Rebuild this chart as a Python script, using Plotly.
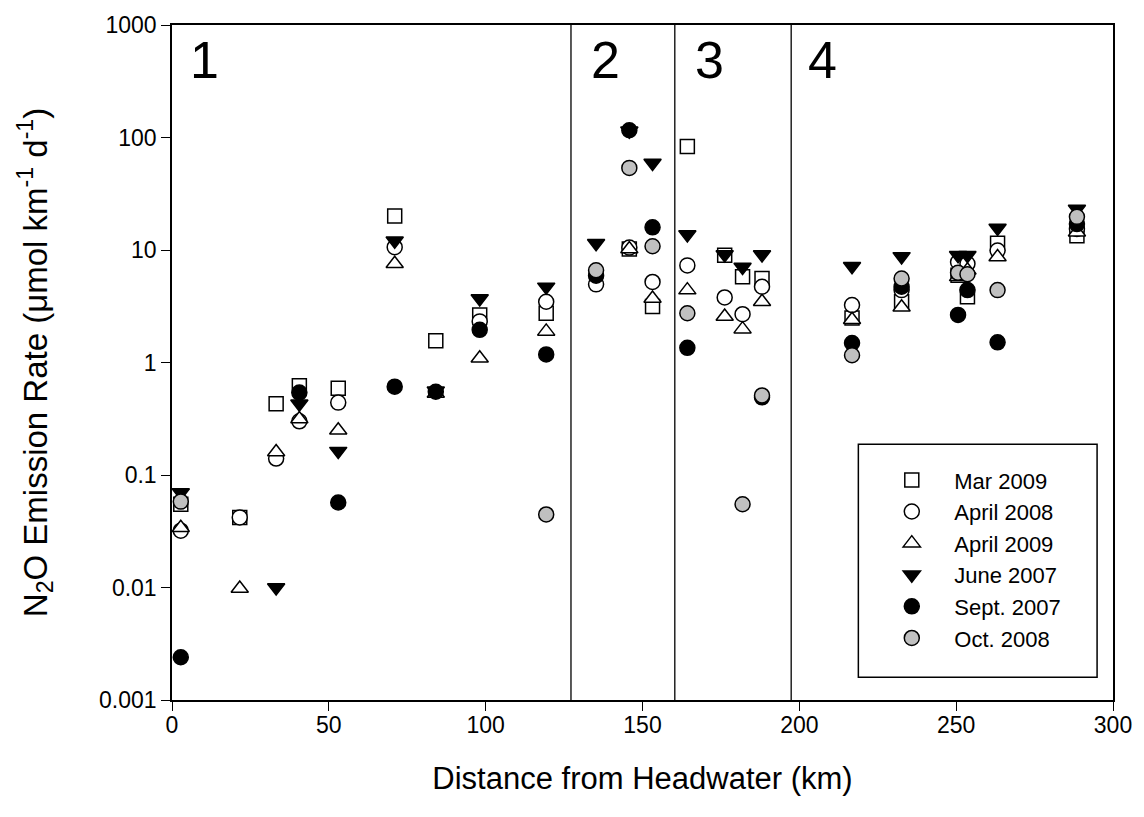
import plotly.graph_objects as go

# ---- data ----
mar09_x = [2.8, 21.6, 33.2, 40.6, 53, 71, 84.1, 98.1, 119.3, 145.8, 153.2, 164.3, 176.2, 181.9, 188.1, 216.8, 232.6, 250.6, 253.6, 263.2, 288.5]
mar09_y = [0.055, 0.042, 0.43, 0.62, 0.59, 20.1, 1.56, 2.65, 2.74, 10.2, 3.14, 83, 8.96, 5.77, 5.57, 2.48, 3.47, 5.97, 3.84, 11.5, 13.4]

apr08_x = [2.8, 21.6, 33.2, 40.6, 53, 71, 98.1, 119.3, 135.2, 145.8, 153.2, 164.3, 176.2, 181.9, 188.1, 216.8, 232.6, 250.6, 253.6, 263.2, 288.5]
apr08_y = [0.032, 0.042, 0.14, 0.30, 0.44, 10.6, 2.32, 3.47, 4.95, 10.5, 5.2, 7.3, 3.79, 2.69, 4.71, 3.24, 4.4, 7.82, 7.55, 9.9, 15.4]

apr09_x = [2.8, 21.6, 33.2, 40.6, 53, 71, 84.1, 98.1, 119.3, 145.8, 153.2, 164.3, 176.2, 181.9, 188.1, 216.8, 232.6, 250.6, 253.6, 263.2, 288.5]
apr09_y = [0.034, 0.0098, 0.16, 0.315, 0.25, 7.56, 0.53, 1.09, 1.89, 10.2, 3.7, 4.4, 2.56, 1.98, 3.47, 2.4, 3.1, 5.77, 6.6, 8.66, 14.4]

jun07_x = [2.8, 33.2, 40.6, 53, 71, 84.1, 98.1, 119.3, 135.2, 145.8, 153.2, 164.3, 176.2, 181.9, 188.1, 216.8, 232.6, 250.6, 253.6, 263.2, 288.5]
jun07_y = [0.070, 0.010, 0.43, 0.163, 12.1, 0.56, 3.71, 4.7, 11.5, 115, 59.4, 13.7, 9.1, 7.06, 9.1, 7.16, 8.77, 8.96, 8.96, 15.7, 23.1]

sep07_x = [2.8, 40.6, 53, 71, 84.1, 98.1, 119.3, 135.2, 145.8, 153.2, 164.3, 188.1, 216.8, 232.6, 250.6, 253.6, 263.2, 288.5]
sep07_y = [0.0024, 0.54, 0.057, 0.61, 0.55, 1.95, 1.18, 5.9, 116, 15.9, 1.35, 0.49, 1.49, 4.71, 2.65, 4.4, 1.51, 17.0]

oct08_x = [2.8, 119.3, 135.2, 145.8, 153.2, 164.3, 181.9, 188.1, 216.8, 232.6, 250.6, 253.6, 263.2, 288.5]
oct08_y = [0.058, 0.0446, 6.6, 53.7, 10.8, 2.74, 0.055, 0.51, 1.16, 5.57, 6.27, 6.09, 4.4, 19.7]

region_bounds = [127.2, 160.3, 197.4]
region_labels = ["1", "2", "3", "4"]
region_label_x = [5, 133, 166, 202]

y_tickvals = [0.001, 0.01, 0.1, 1, 10, 100, 1000]
y_ticktext = ["0.001", "0.01", "0.1", "1", "10", "100", "1000"]
x_tickvals = [0, 50, 100, 150, 200, 250, 300]

series = [
    ("Mar 2009", mar09_x, mar09_y, "square", "white"),
    ("April 2008", apr08_x, apr08_y, "circle", "white"),
    ("April 2009", apr09_x, apr09_y, "triangle-up", "white"),
    ("June 2007", jun07_x, jun07_y, "triangle-down", "black"),
    ("Sept. 2007", sep07_x, sep07_y, "circle", "black"),
    ("Oct. 2008", oct08_x, oct08_y, "circle", "#C0C0C0"),
]

FONT = "Liberation Sans, Arial, sans-serif"

fig = go.Figure()
for name, xs, ys, sym, fill in series:
    fig.add_trace(go.Scatter(
        x=xs, y=ys, mode="markers", name=name,
        marker=dict(symbol=sym, size=15 if sym != "square" else 14, color=fill,
                    line=dict(color="black", width=1.5)),
    ))

for b in region_bounds:
    fig.add_shape(type="line", xref="x", yref="paper", x0=b, x1=b, y0=0, y1=1,
                  line=dict(color="black", width=1.3))

for lab, lx in zip(region_labels, region_label_x):
    fig.add_annotation(x=lx, y=0.948, xref="x", yref="paper", text=lab,
                       showarrow=False, xanchor="left", yanchor="middle",
                       font=dict(family=FONT, size=52, color="black"))

# legend frame
fig.add_shape(type="rect", xref="paper", yref="paper",
              x0=(862 - 172) / 946, x1=(1102 - 172) / 946,
              y0=(700 - 677) / 681, y1=(700 - 442) / 681,
              line=dict(color="black", width=1.5), fillcolor="rgba(0,0,0,0)", layer="above")

fig.update_layout(
    width=1144, height=817,
    margin=dict(l=172, r=26, t=19, b=117),
    paper_bgcolor="white", plot_bgcolor="white",
    font=dict(family=FONT, color="black"),
    showlegend=True,
    legend=dict(
        x=(873 - 172) / 946, y=(700 - 457) / 681, xanchor="left", yanchor="top",
        borderwidth=0, bgcolor="rgba(0,0,0,0)",
        font=dict(family=FONT, size=22), itemwidth=75,
        tracegroupgap=0,
    ),
    xaxis=dict(
        range=[0, 300], tickvals=x_tickvals, ticks="outside", ticklen=9,
        tickwidth=1.3, tickcolor="black", showgrid=False, zeroline=False,
        showline=True, linecolor="black", linewidth=1.5, mirror=True,
        tickfont=dict(family=FONT, size=23), ticklabelstandoff=-5,
        title=dict(text="Distance from Headwater (km)", font=dict(family=FONT, size=31), standoff=30),
    ),
    yaxis=dict(
        type="log", range=[-3, 3], tickvals=y_tickvals, ticktext=y_ticktext,
        ticks="outside", ticklen=9, tickwidth=1.3, tickcolor="black",
        showgrid=False, zeroline=False,
        showline=True, linecolor="black", linewidth=1.5, mirror=True,
        tickfont=dict(family=FONT, size=23),
        title=dict(text="N<sub>2</sub>O Emission Rate (μmol km<sup>-1</sup> d<sup>-1</sup>)",
                   font=dict(family=FONT, size=33), standoff=42),
    ),
)

fig.write_html("out.html")
